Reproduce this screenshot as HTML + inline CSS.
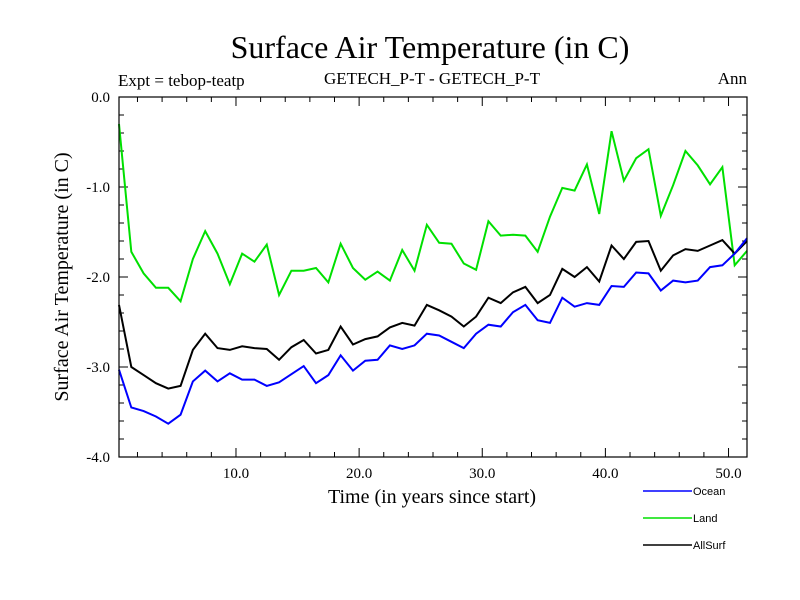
<!DOCTYPE html>
<html><head><meta charset="utf-8"><style>
body{margin:0;background:#fff}
svg{display:block}
.serif{font-family:"Liberation Serif",serif}
.sans{font-family:"Liberation Sans",sans-serif}
</style></head><body>
<svg id="chart" width="800" height="600" xmlns="http://www.w3.org/2000/svg">
<text class="serif" x="430" y="58" font-size="32" text-anchor="middle">Surface Air Temperature (in C)</text>
<text class="serif" x="118" y="86" font-size="17">Expt = tebop-teatp</text>
<text class="serif" x="432" y="84" font-size="17" text-anchor="middle">GETECH_P-T - GETECH_P-T</text>
<text class="serif" x="747" y="84" font-size="17" text-anchor="end">Ann</text>
<text class="serif" x="432" y="503" font-size="20" text-anchor="middle">Time (in years since start)</text>
<text class="serif" x="0" y="0" font-size="20" text-anchor="middle" transform="translate(68,277) rotate(-90)">Surface Air Temperature (in C)</text>
<g id="ticks"></g>
<g id="lines"></g>
<rect x="119" y="97" width="628" height="360" fill="none" stroke="#000" stroke-width="1.2"/>
<g id="legend"></g>
</svg>
<script>
const years = Array.from({length:52},(_,i)=>i+0.5);
const ocean = [-3.03,-3.45,-3.49,-3.55,-3.63,-3.53,-3.16,-3.04,-3.16,-3.07,-3.14,-3.14,-3.21,-3.17,-3.08,-2.99,-3.18,-3.09,-2.87,-3.04,-2.93,-2.92,-2.76,-2.80,-2.76,-2.63,
-2.65,-2.72,-2.79,-2.63,-2.53,-2.55,-2.39,-2.31,-2.48,-2.51,-2.23,-2.33,-2.29,-2.31,-2.10,-2.11,-1.95,-1.96,-2.15,-2.04,-2.06,-2.04,-1.89,-1.87,-1.74,-1.57];
const land = [-0.30,-1.72,-1.96,-2.12,-2.12,-2.27,-1.80,-1.49,-1.74,-2.08,-1.74,-1.83,-1.64,-2.20,-1.93,-1.93,-1.90,-2.06,-1.63,-1.90,-2.03,-1.94,-2.04,-1.70,-1.93,-1.42,
-1.62,-1.63,-1.85,-1.92,-1.38,-1.54,-1.53,-1.54,-1.72,-1.33,-1.01,-1.04,-0.75,-1.30,-0.38,-0.93,-0.68,-0.58,-1.32,-0.98,-0.60,-0.76,-0.97,-0.78,-1.87,-1.71];
const allsurf = [-2.31,-3.00,-3.09,-3.18,-3.24,-3.21,-2.81,-2.63,-2.79,-2.81,-2.77,-2.79,-2.80,-2.92,-2.78,-2.70,-2.85,-2.81,-2.55,-2.75,-2.69,-2.66,-2.56,-2.51,-2.54,-2.31,
-2.37,-2.44,-2.55,-2.44,-2.23,-2.29,-2.17,-2.11,-2.29,-2.20,-1.91,-2.00,-1.89,-2.05,-1.65,-1.80,-1.61,-1.60,-1.93,-1.76,-1.69,-1.71,-1.65,-1.59,-1.74,-1.60];
const xTickLabels = ["10.0","20.0","30.0","40.0","50.0"];
const yTickLabels = ["0.0","-1.0","-2.0","-3.0","-4.0"];
const NS="http://www.w3.org/2000/svg";
const X0=119,X1=747,Y0=97,Y1=457,xmin=0.5,xmax=51.5,ymin=-4,ymax=0;
const xs=v=>X0+(v-xmin)/(xmax-xmin)*(X1-X0);
const ys=v=>Y1-(v-ymin)/(ymax-ymin)*(Y1-Y0);
function mk(tag,attrs,parent){const e=document.createElementNS(NS,tag);for(const k in attrs)e.setAttribute(k,attrs[k]);parent.appendChild(e);return e;}
const tg=document.getElementById('ticks');
for(let y=2;y<=51;y+=2){const major=y%10===0;const L=major?9:5;const x=xs(y);
 const t=mk('line',{x1:x,x2:x,y1:Y1,y2:Y1-L,stroke:'#000'},tg);
 
 
 const t2=mk('line',{x1:x,x2:x,y1:Y0,y2:Y0+L,stroke:'#000'},tg);
 
 }
xTickLabels.forEach(s=>{const t=mk('text',{x:xs(parseFloat(s)),y:478,'font-size':15,'text-anchor':'middle',class:'serif'},tg);t.textContent=s;
 
 });
for(let k=0;k<=20;k++){const v=-k*0.2;const major=k%5===0;const L=major?9:5;const y=ys(v);
 const t=mk('line',{x1:X0,x2:X0+L,y1:y,y2:y,stroke:'#000'},tg);
 
 
 const t2=mk('line',{x1:X1,x2:X1-L,y1:y,y2:y,stroke:'#000'},tg);
 
 }
yTickLabels.forEach(s=>{const t=mk('text',{x:110,y:ys(parseFloat(s))+5,'font-size':15,'text-anchor':'end',class:'serif'},tg);t.textContent=s;
 
 });
const lg=document.getElementById('lines');
const series=[[land,'#00e000','land-line'],[allsurf,'#000','allsurf-line'],[ocean,'#0000ff','ocean-line']];
series.forEach(([d,c,n])=>{const p=mk('polyline',{points:d.map((v,i)=>xs(years[i])+','+ys(v)).join(' '),fill:'none',stroke:c,'stroke-width':2,'stroke-linejoin':'miter'},lg);
 
 });
const leg=document.getElementById('legend');
[['Ocean','#0000ff',491],['Land','#00e000',518],['AllSurf','#000',545]].forEach(([l,c,y])=>{
 const g=mk('g',{},leg);
 
 
 mk('line',{x1:643,x2:692,y1:y,y2:y,stroke:c,'stroke-width':1.5},g);
 const t=mk('text',{x:693,y:y+4,'font-size':11,class:'sans'},g);t.textContent=l;});
</script>
</body></html>
